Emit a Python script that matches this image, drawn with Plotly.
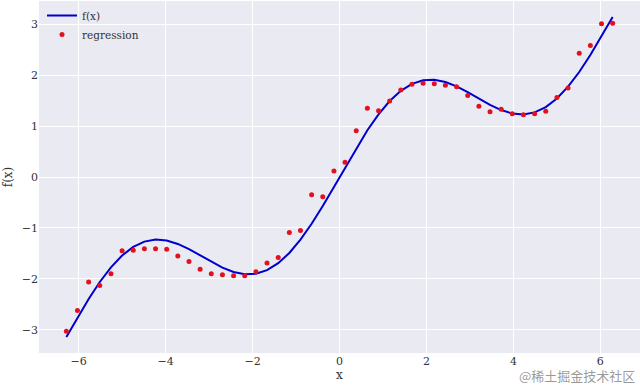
import plotly.graph_objects as go

# sample positions (from -2π to 2π, 50 points)
x_vals = [-6.283, -6.027, -5.770, -5.514, -5.257, -5.001, -4.744, -4.488, -4.231, -3.975,
          -3.719, -3.462, -3.206, -2.949, -2.693, -2.436, -2.180, -1.923, -1.667, -1.410,
          -1.154, -0.898, -0.641, -0.385, -0.128, 0.128, 0.385, 0.641, 0.898, 1.154,
          1.410, 1.667, 1.923, 2.180, 2.436, 2.693, 2.949, 3.206, 3.462, 3.719,
          3.975, 4.231, 4.488, 4.744, 5.001, 5.257, 5.514, 5.770, 6.027, 6.283]

# f(x) curve values
f_vals = [-3.142, -2.760, -2.394, -2.061, -1.774, -1.542, -1.373, -1.269, -1.229, -1.247,
          -1.314, -1.416, -1.539, -1.666, -1.780, -1.866, -1.910, -1.900, -1.829, -1.692,
          -1.492, -1.231, -0.919, -0.568, -0.192, 0.192, 0.568, 0.919, 1.231, 1.492,
          1.692, 1.829, 1.900, 1.910, 1.866, 1.780, 1.666, 1.539, 1.416, 1.314,
          1.247, 1.229, 1.269, 1.373, 1.542, 1.774, 2.061, 2.394, 2.760, 3.142]

# regression predictions
reg_vals = [-3.03, -2.62, -2.06, -2.13, -1.90, -1.45, -1.44, -1.41, -1.41, -1.42,
            -1.55, -1.66, -1.81, -1.90, -1.92, -1.94, -1.94, -1.86, -1.69, -1.58,
            -1.09, -1.05, -0.35, -0.39, 0.12, 0.29, 0.91, 1.35, 1.30, 1.49,
            1.71, 1.82, 1.84, 1.83, 1.80, 1.77, 1.60, 1.39, 1.28, 1.33,
            1.24, 1.22, 1.24, 1.29, 1.56, 1.75, 2.43, 2.58, 3.01, 3.02]

x_ticks = [-6, -4, -2, 0, 2, 4, 6]
y_ticks = [-3, -2, -1, 0, 1, 2, 3]

FONT = "DejaVu Serif"

fig = go.Figure()
fig.add_trace(go.Scatter(x=x_vals, y=f_vals, mode="lines", name="f(x)",
                         line=dict(color="#0000CD", width=2)))
fig.add_trace(go.Scatter(x=x_vals, y=reg_vals, mode="markers", name="regression",
                         marker=dict(color="#e3101e", size=5)))

axis_common = dict(showgrid=True, gridcolor="white", gridwidth=1.2, zeroline=False,
                   showline=False, ticks="", tickfont=dict(family=FONT, size=11, color="#333333"))

fig.update_layout(
    width=640, height=385,
    margin=dict(l=39, r=0, t=1, b=32),
    paper_bgcolor="white",
    plot_bgcolor="#EAEAF2",
    font=dict(family=FONT, size=11, color="#333333"),
    xaxis=dict(range=[-6.912, 6.912], tickvals=x_ticks,
               ticktext=[str(v).replace("-", "\u2212") for v in x_ticks],
               title=dict(text="x", font=dict(family=FONT, size=12, color="#333333"), standoff=2),
               **axis_common),
    yaxis=dict(range=[-3.456, 3.456], tickvals=y_ticks,
               ticktext=[str(v).replace("-", "\u2212") for v in y_ticks],
               title=dict(text="f(x)", font=dict(family=FONT, size=12, color="#333333"), standoff=6),
               **axis_common),
    legend=dict(x=0.005, y=1.0, xanchor="left", yanchor="top",
                bgcolor="rgba(0,0,0,0)", borderwidth=0,
                font=dict(family=FONT, size=10.5, color="#333333"),
                tracegroupgap=0, itemwidth=30),
    showlegend=True,
)

fig.add_annotation(text="@稀土掘金技术社区", xref="paper", yref="paper",
                   x=0.995, y=-0.064, xanchor="right", yanchor="middle", showarrow=False,
                   font=dict(family="Noto Sans CJK SC", size=13, color="rgba(120,120,120,0.75)"))

fig.write_html("out.html")
